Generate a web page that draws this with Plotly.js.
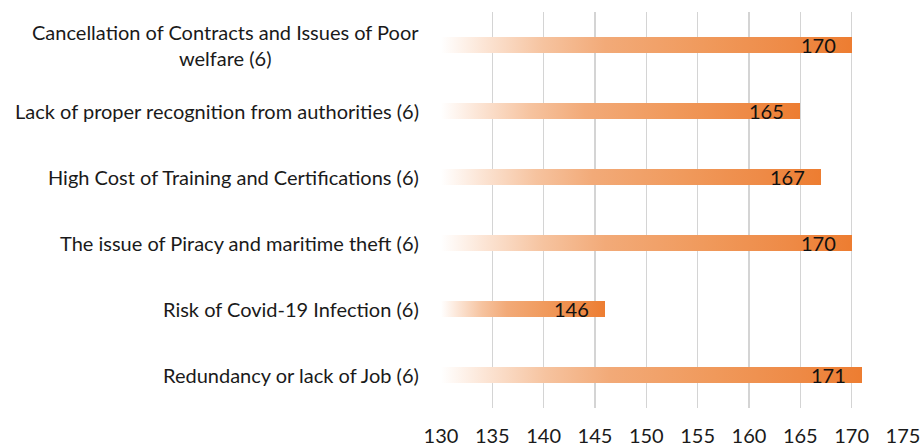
<!DOCTYPE html>
<html>
<head>
<meta charset="utf-8">
<script src="https://cdn.plot.ly/plotly-3.0.1.min.js"></script>
<style>html,body{margin:0;padding:0;background:#fff;}#chart{width:921px;height:446px;}</style>
</head>
<body>
<div id="chart"></div>
<script>
// Data (top to bottom as displayed)
const categories = [
  "Cancellation of Contracts and Issues of Poor<br>welfare (6)",
  "Lack of proper recognition from authorities (6)",
  "High Cost of Training and Certifications (6)",
  "The issue of Piracy and maritime theft (6)",
  "Risk of Covid-19 Infection (6)",
  "Redundancy or lack of Job (6)"
];
const values = [170, 165, 167, 170, 146, 171];
const xTicks = [130, 135, 140, 145, 150, 155, 160, 165, 170, 175];

const axisMin = 130, axisMax = 175;
const FONT = "Lato, 'Open Sans', sans-serif";

const trace = {
  type: 'bar',
  orientation: 'h',
  y: categories,
  x: values.map(v => v - axisMin),
  base: axisMin,
  width: 0.24,
  marker: {color: '#ED7D31', line: {width: 0}},
  hoverinfo: 'skip'
};

const annotations = [];
categories.forEach((c, i) => {
  annotations.push({
    xref: 'paper', yref: 'y', x: 0, y: c, xanchor: 'right', yanchor: 'middle',
    xshift: -20, text: c, align: 'center', showarrow: false,
    font: {family: FONT, size: 20, color: '#1a1a1a'}
  });
  annotations.push({
    xref: 'x', yref: 'y', x: values[i], y: c, xanchor: 'right', yanchor: 'middle',
    xshift: -14, text: String(values[i]), showarrow: false,
    font: {family: FONT, size: 20, color: '#111'}
  });
});

const layout = {
  width: 921, height: 446,
  margin: {l: 441, r: 18, t: 12, b: 38},
  paper_bgcolor: '#fff', plot_bgcolor: '#fff',
  showlegend: false,
  bargap: 0,
  xaxis: {
    range: [axisMin, axisMax], tickvals: xTicks, ticktext: xTicks.map(String),
    showgrid: true, gridcolor: '#d4d4d4', gridwidth: 1.5,
    zeroline: false, showline: false, ticks: '', ticklabelstandoff: 14,
    tickfont: {family: FONT, size: 20, color: '#1a1a1a'}, fixedrange: true
  },
  yaxis: {
    categoryorder: 'array', categoryarray: categories, autorange: 'reversed',
    showticklabels: false, showgrid: false, zeroline: false, showline: false, ticks: '', fixedrange: true
  },
  annotations: annotations
};

Plotly.newPlot('chart', [trace], layout, {displayModeBar: false, staticPlot: true}).then(gd => {
  const svg = gd.querySelector('.main-svg');
  let defs = svg.querySelector('defs');
  const ns = 'http://www.w3.org/2000/svg';
  const grad = document.createElementNS(ns, 'linearGradient');
  grad.setAttribute('id', 'barGrad');
  grad.setAttribute('x1', '0'); grad.setAttribute('y1', '0');
  grad.setAttribute('x2', '1'); grad.setAttribute('y2', '0');
  const stops = [[0, '#FFFFFF'], [0.1, '#FCE6D7'], [0.25, '#F6C39F'], [0.4, '#F2AA78'], [0.65, '#F0995B'], [0.85, '#EE8A46'], [1, '#ED7D31']];
  stops.forEach(([o, c]) => {
    const s = document.createElementNS(ns, 'stop');
    s.setAttribute('offset', o); s.setAttribute('stop-color', c);
    grad.appendChild(s);
  });
  defs.appendChild(grad);
  gd.querySelectorAll('.bars .point path').forEach(p => { p.style.fill = 'url(#barGrad)'; });
});
</script>
</body>
</html>
